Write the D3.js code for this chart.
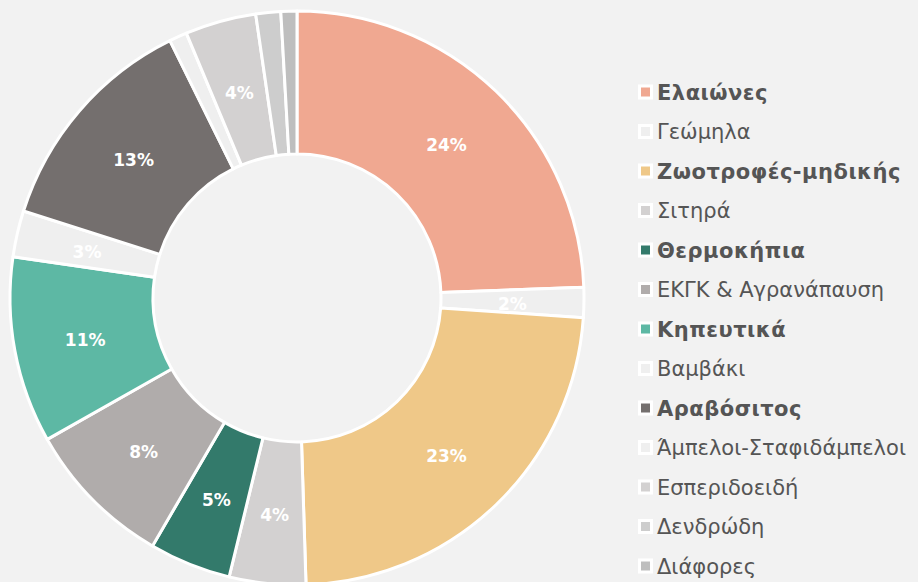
<!DOCTYPE html>
<html lang="el">
<head>
<meta charset="UTF-8">
<title>Donut</title>
<style>
    html, body { margin: 0; padding: 0; background: #f2f2f2; }
    svg { display: block; }
    .lbl { font-family: "DejaVu Sans", Verdana, sans-serif; font-weight: bold; fill: #fff; }
    .leg text { font-family: "DejaVu Sans", Verdana, sans-serif; fill: #555; }
</style>
</head>
<body>
<div id="chart"></div>
<script src="https://d3js.org/d3.v7.min.js"></script>
<script>
    // categories, values (%) and colours
    const categories = ["Ελαιώνες", "Γεώμηλα", "Ζωοτροφές-μηδικής", "Σιτηρά", "Θερμοκήπια",
        "ΕΚΓΚ & Αγρανάπαυση", "Κηπευτικά", "Βαμβάκι", "Αραβόσιτος", "Άμπελοι-Σταφιδάμπελοι",
        "Εσπεριδοειδή", "Δενδρώδη", "Διάφορες"];
    const values = [24.4, 1.7, 23.4, 4.3, 4.6, 8.4, 10.5, 2.6, 12.8, 1.0, 4.0, 1.4, 0.9];
    const colors = ["#f0a891", "#efefef", "#efc888", "#d3d1d1", "#337a6b", "#b0acab",
        "#5db8a4", "#efefef", "#746f6e", "#efefef", "#d3d1d1", "#cdcdcd", "#bebebe"];
    const boldItems = ["Ελαιώνες", "Ζωοτροφές-μηδικής", "Θερμοκήπια", "Κηπευτικά", "Αραβόσιτος"];

    const width = 918, height = 582;
    const cx = 297, cy = 298;
    const outerR = 287, innerR = 144;

    const svg = d3.select("#chart").append("svg")
        .attr("width", width)
        .attr("height", height);

    const data = categories.map((c, i) => ({ name: c, value: values[i], color: colors[i] }));
    const total = d3.sum(values);

    const pie = d3.pie().sort(null).value(d => d.value);
    const arc = d3.arc().innerRadius(innerR).outerRadius(outerR);
    const labelArc = d3.arc().innerRadius((innerR + outerR) / 2).outerRadius((innerR + outerR) / 2);

    const g = svg.append("g").attr("transform", `translate(${cx},${cy})`);

    const arcs = pie(data);

    g.selectAll("path").data(arcs).join("path")
        .attr("d", arc)
        .attr("fill", d => d.data.color)
        .attr("stroke", "#fff")
        .attr("stroke-width", 3)
        .attr("stroke-linejoin", "round");

    // percentage labels, small slices are left out
    g.selectAll("text.lbl").data(arcs.filter(d => d.data.value / total * 100 >= 1.5)).join("text")
        .attr("class", "lbl")
        .attr("transform", d => `translate(${labelArc.centroid(d)})`)
        .attr("text-anchor", "middle")
        .attr("dy", "0.5em")
        .attr("font-size", 17)
        .text(d => Math.round(d.data.value / total * 100) + "%");

    // legend
    const y = d3.scalePoint().domain(categories).range([92, 566]);
    const leg = svg.append("g").attr("class", "leg");
    const item = leg.selectAll("g").data(data).join("g")
        .attr("transform", d => `translate(638,${y(d.name)})`);

    item.append("rect")
        .attr("x", 1.5).attr("y", -6)
        .attr("width", 12).attr("height", 12)
        .attr("fill", d => d.color)
        .attr("stroke", "#fff")
        .attr("stroke-width", 3);

    item.append("text")
        .attr("x", 19)
        .attr("dy", "0.36em")
        .attr("font-size", 21)
        .attr("font-weight", d => boldItems.includes(d.name) ? "bold" : "normal")
        .attr("letter-spacing", d => boldItems.includes(d.name) ? 0.5 : 0)
        .text(d => d.name);
</script>
</body>
</html>
